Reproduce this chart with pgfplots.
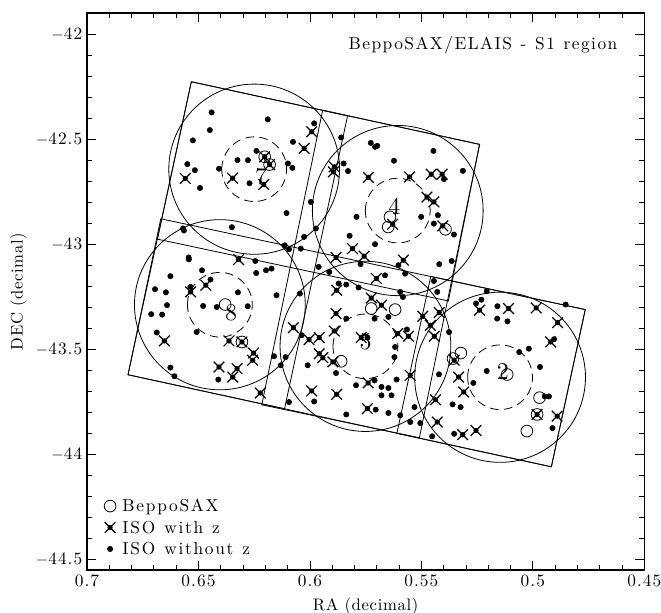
\documentclass[border=0pt]{standalone}
\usepackage{fontspec}
\setmainfont{lmroman10-regular.otf}[BoldFont=lmroman10-bold.otf, ItalicFont=lmroman10-italic.otf]
\newfontfamily\lgfamily{lmroman10-regular.otf}[LetterSpace=10, WordSpace=1.2]
\newfontfamily\ttlfamily{lmroman10-regular.otf}[LetterSpace=8.5, WordSpace=1.2]
\newfontfamily\tkfamily{lmroman10-regular.otf}[LetterSpace=6]
\newfontfamily\lbfamily{lmroman10-regular.otf}[LetterSpace=4]
\usepackage{pgfplots}
\usepackage{pgfplotstable}
\pgfplotsset{compat=1.18}

% ISO source with redshift: x with a filled core
\pgfdeclareplotmark{isoz}{%
  \pgfsetlinewidth{0.9pt}%
  \pgfpathmoveto{\pgfqpoint{-\pgfplotmarksize}{-\pgfplotmarksize}}%
  \pgfpathlineto{\pgfqpoint{\pgfplotmarksize}{\pgfplotmarksize}}%
  \pgfpathmoveto{\pgfqpoint{-\pgfplotmarksize}{\pgfplotmarksize}}%
  \pgfpathlineto{\pgfqpoint{\pgfplotmarksize}{-\pgfplotmarksize}}%
  \pgfusepathqstroke
  \pgfpathcircle{\pgfpointorigin}{0.5\pgfplotmarksize}%
  \pgfusepathqfill
}
\pgfplotsset{onemark/.style={legend image code/.code={\draw[##1] plot coordinates {(0pt,0pt)};}}}

\pgfplotstableread{
ra dec
0.6203 -42.584
0.6181 -42.621
0.5641 -42.870
0.5649 -42.918
0.5392 -42.929
0.6380 -43.287
0.6305 -43.465
0.5725 -43.306
0.5618 -43.311
0.5860 -43.557
0.5323 -43.518
0.5358 -43.544
0.4970 -43.730
0.4981 -43.810
0.5027 -43.889
0.5115 -43.620
}\sax

\pgfplotstableread{
ra dec
0.6559 -42.687
0.6347 -42.686
0.6207 -42.716
0.6203 -42.584
0.6181 -42.621
0.5992 -42.465
0.6026 -42.544
0.5891 -42.632
0.5895 -42.656
0.5738 -42.682
0.5553 -42.680
0.5456 -42.667
0.5407 -42.667
0.5475 -42.776
0.5444 -42.799
0.5629 -42.905
0.5404 -42.913
0.6320 -43.073
0.6467 -43.195
0.6535 -43.227
0.6653 -43.460
0.6363 -43.460
0.6305 -43.465
0.6253 -43.518
0.6257 -43.552
0.6408 -43.584
0.6327 -43.592
0.6346 -43.632
0.6223 -43.708
0.5883 -43.063
0.5757 -43.057
0.5581 -43.076
0.5809 -43.021
0.5702 -43.163
0.5880 -43.219
0.5725 -43.256
0.5679 -43.290
0.5883 -43.330
0.6074 -43.397
0.5891 -43.413
0.5606 -43.425
0.6004 -43.454
0.5958 -43.444
0.5770 -43.444
0.5958 -43.521
0.5942 -43.540
0.5897 -43.560
0.5739 -43.660
0.5992 -43.698
0.5880 -43.714
0.5742 -43.782
0.5239 -43.314
0.5109 -43.306
0.4985 -43.303
0.4889 -43.373
0.4920 -43.465
0.5494 -43.343
0.5420 -43.325
0.5460 -43.386
0.5442 -43.438
0.5558 -43.438
0.5353 -43.552
0.5333 -43.632
0.5310 -43.703
0.5437 -43.740
0.5429 -43.846
0.5315 -43.906
0.5255 -43.886
0.4891 -43.818
0.5550 -43.624
0.4981 -43.810
}\isoz

\pgfplotstableread{
ra dec
0.6441 -42.373
0.6189 -42.406
0.6449 -42.457
0.6525 -42.506
0.6076 -42.513
0.6550 -42.619
0.6516 -42.648
0.6493 -42.732
0.6408 -42.641
0.6325 -42.600
0.6278 -42.600
0.6240 -42.556
0.6271 -42.710
0.6099 -42.616
0.6079 -42.637
0.6105 -42.852
0.6569 -42.925
0.6565 -42.935
0.6350 -42.919
0.5981 -42.425
0.5860 -42.492
0.5829 -42.652
0.5849 -42.616
0.5996 -42.799
0.5791 -42.870
0.5822 -42.960
0.5973 -42.925
0.6026 -42.965
0.5727 -42.518
0.5708 -42.537
0.5698 -42.532
0.5446 -42.556
0.5623 -42.603
0.5314 -42.651
0.5399 -42.690
0.5426 -42.862
0.5444 -42.902
0.5501 -42.870
0.5354 -42.954
0.5708 -43.000
0.6544 -43.063
0.6543 -43.072
0.6245 -43.080
0.6241 -43.137
0.6197 -43.124
0.6172 -43.116
0.6484 -43.124
0.6626 -43.152
0.6446 -43.168
0.6536 -43.203
0.6695 -43.214
0.6646 -43.229
0.6323 -43.229
0.6641 -43.290
0.6479 -43.294
0.6418 -43.299
0.6279 -43.295
0.6712 -43.333
0.6663 -43.335
0.6150 -43.243
0.6687 -43.420
0.6508 -43.418
0.6626 -43.587
0.6608 -43.628
0.6411 -43.644
0.6113 -43.005
0.6094 -43.024
0.6041 -43.021
0.5961 -43.108
0.5913 -43.132
0.5773 -43.095
0.5663 -43.148
0.5603 -43.100
0.5871 -43.187
0.5837 -43.192
0.5782 -43.206
0.5595 -43.227
0.6045 -43.235
0.5583 -43.251
0.5837 -43.354
0.5710 -43.354
0.5648 -43.346
0.6037 -43.433
0.5742 -43.444
0.5565 -43.406
0.5618 -43.489
0.5621 -43.537
0.6161 -43.533
0.6109 -43.537
0.6131 -43.576
0.6010 -43.576
0.5883 -43.613
0.5611 -43.644
0.5710 -43.648
0.5793 -43.671
0.5679 -43.679
0.5648 -43.684
0.5679 -43.719
0.5634 -43.719
0.5981 -43.748
0.5705 -43.787
0.5837 -43.810
0.5648 -43.803
0.5595 -43.814
0.6094 -43.751
0.5420 -43.095
0.5573 -43.140
0.5444 -43.175
0.5429 -43.227
0.5207 -43.224
0.5231 -43.264
0.5255 -43.282
0.5159 -43.295
0.5160 -43.354
0.5114 -43.367
0.4853 -43.287
0.5364 -43.080
0.5376 -43.418
0.5018 -43.497
0.5061 -43.513
0.4968 -43.584
0.5207 -43.603
0.5267 -43.660
0.5421 -43.619
0.5360 -43.762
0.5324 -43.775
0.5531 -43.775
0.4947 -43.724
0.4928 -43.724
0.4912 -43.875
0.5353 -43.902
0.5452 -43.914
0.5505 -43.851
0.5550 -43.846
0.4905 -43.452
}\isonoz

\begin{document}
\begin{tikzpicture}
\useasboundingbox (-65.25pt,-31.5pt) rectangle (430.5pt,427.5pt);
\begin{axis}[
  scale only axis,
  width=418pt, height=417.75pt,
  x dir=reverse,
  xmin=0.45, xmax=0.7,
  ymin=-44.55, ymax=-41.9,
  xtick={0.45,0.5,0.55,0.6,0.65,0.7},
  xticklabels={0.45,0.5,0.55,0.6,0.65,0.7},
  ytick={-44.5,-44,-43.5,-43,-42.5,-42},
  yticklabels={$-$44.5,$-$44,$-$43.5,$-$43,$-$42.5,$-$42},
  minor x tick num=4, minor y tick num=4,
  major tick length=6.75pt, minor tick length=4pt,
  tick style={black, line width=0.6pt},
  axis line style={line width=0.9pt},
  ticklabel style={font=\tkfamily\fontsize{13}{15}\selectfont},
  xlabel={RA (decimal)}, ylabel={DEC (decimal)},
  label style={font=\lbfamily\fontsize{12.5}{14}\selectfont},
  xlabel style={at={(axis description cs:0.5,-0.0646)}, anchor=center},
  ylabel style={at={(axis description cs:-0.123,0.5)}, anchor=center},
  legend style={at={(0.0309,0.02)}, anchor=south west, draw=none, fill=none,
    inner sep=0pt, outer sep=0pt, row sep=1.3pt, column sep=4.9pt,
    font=\lgfamily\fontsize{13}{15}\selectfont,
    nodes={inner sep=0pt, text height=11.8pt, text depth=3pt}},
  legend cell align=left,
]
% ISO rasters
\addplot[black, line width=0.6pt, forget plot] coordinates {
  (0.6532,-42.227) (0.5239,-42.525) (0.5379,-43.270) (0.6684,-42.976) (0.6532,-42.227)};
\addplot[black, line width=0.6pt, forget plot] coordinates {
  (0.6669,-42.879) (0.4765,-43.311) (0.4917,-44.059) (0.6816,-43.621) (0.6669,-42.879)};
\addplot[black, line width=0.6pt, forget plot] coordinates {
  (0.6532,-42.227) (0.5831,-42.389) (0.6114,-43.783) (0.6816,-43.621) (0.6532,-42.227)};
\addplot[black, line width=0.6pt, forget plot] coordinates {
  (0.5943,-42.363) (0.5239,-42.525) (0.5509,-43.921) (0.6216,-43.764) (0.5943,-42.363)};
\addplot[black, line width=0.6pt, forget plot] coordinates {
  (0.5458,-43.153) (0.4765,-43.311) (0.4917,-44.059) (0.5610,-43.900) (0.5458,-43.153)};

% BeppoSAX fields
\draw[line width=0.6pt] (axis cs:0.6250,-42.643) ellipse [x radius=0.0383, y radius=0.4048];
\draw[line width=0.6pt] (axis cs:0.5606,-42.840) ellipse [x radius=0.0383, y radius=0.4048];
\draw[line width=0.6pt] (axis cs:0.6404,-43.288) ellipse [x radius=0.0383, y radius=0.4048];
\draw[line width=0.6pt] (axis cs:0.5751,-43.486) ellipse [x radius=0.0383, y radius=0.4048];
\draw[line width=0.6pt] (axis cs:0.5147,-43.633) ellipse [x radius=0.0383, y radius=0.4048];
\begin{scope}[line width=0.6pt, dash pattern=on 6.5pt off 4pt]
\draw (axis cs:0.6250,-42.643) ellipse [x radius=0.01455, y radius=0.1538];
\draw (axis cs:0.5606,-42.840) ellipse [x radius=0.01455, y radius=0.1538];
\draw (axis cs:0.6404,-43.288) ellipse [x radius=0.01455, y radius=0.1538];
\draw (axis cs:0.5751,-43.486) ellipse [x radius=0.01455, y radius=0.1538];
\draw (axis cs:0.5147,-43.633) ellipse [x radius=0.01455, y radius=0.1538];
\end{scope}

\addplot[black, only marks, mark=o, mark size=4.4pt, mark options={line width=0.6pt}, onemark] table {\sax};
\addplot[black, only marks, mark=isoz, mark size=4pt, mark options={fill=black}, onemark] table {\isoz};
\addplot[black, only marks, mark=*, mark size=2pt, mark options={fill=black}, onemark] table {\isonoz};
\legend{BeppoSAX, ISO with z, ISO without z}

\node[font=\fontsize{18}{20}\selectfont] at (axis cs:0.6219,-42.680) {7};
\node[font=\fontsize{18}{20}\selectfont] at (axis cs:0.5621,-42.822) {4};
\node[font=\fontsize{18}{20}\selectfont] at (axis cs:0.6354,-43.327) {8};
\node[font=\fontsize{18}{20}\selectfont] at (axis cs:0.5750,-43.465) {5};
\node[font=\fontsize{18}{20}\selectfont] at (axis cs:0.5135,-43.608) {2};

\node[anchor=east, inner sep=0pt, font=\ttlfamily\fontsize{13}{15}\selectfont]
  at (axis cs:0.462,-42.052) {BeppoSAX/ELAIS - S1 region};
\end{axis}
\end{tikzpicture}
\end{document}
